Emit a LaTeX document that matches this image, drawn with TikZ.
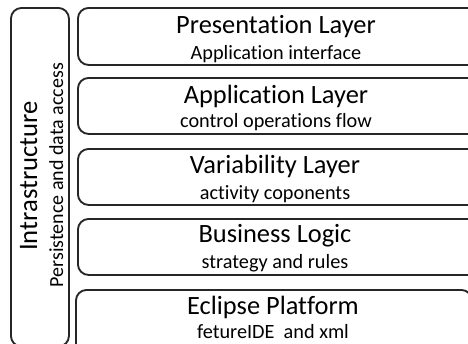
\documentclass[tikz,border=0pt]{standalone}
\usepackage{fontspec}
\setmainfont{Carlito}[Ligatures={NoCommon}]
\begin{document}
\begin{tikzpicture}[x=0.75pt,y=-0.75pt,
  boxline/.style={draw=black!85, line width=1.4pt, rounded corners=8pt, inner sep=0pt, anchor=north west},
  title/.style={font=\fontsize{19.8}{23}\selectfont, anchor=base, inner sep=0pt},
  subtitle/.style={font=\fontsize{15.2}{18}\selectfont, anchor=base, inner sep=0pt},
  sidebig/.style={font=\fontsize{20}{24}\selectfont, anchor=base, rotate=90, inner sep=0pt},
  sidesmall/.style={font=\fontsize{15}{18}\selectfont, anchor=base, rotate=90, inner sep=0pt}]
\useasboundingbox (0,0) rectangle (468,343);
\clip (0,0) rectangle (468,343);
% left infrastructure box
\node[boxline, minimum width=43.5pt, minimum height=254pt] (infra) at (10,7) {};
\node[sidebig] (infraT) at (37,176) {Intrastructure};
\node[sidesmall] (infraS) at (63,175) {Persistence and data access};
% layer boxes
\node[boxline, minimum width=302.25pt, minimum height=42.75pt] (b1) at (77,7) {};
\node[boxline, minimum width=302.25pt, minimum height=42pt] (b2) at (77,77) {};
\node[boxline, minimum width=302.25pt, minimum height=42pt] (b3) at (77,148) {};
\node[boxline, minimum width=302.25pt, minimum height=42pt] (b4) at (77,218) {};
\node[boxline, minimum width=297pt, minimum height=54pt] (b5) at (75,289) {};
% texts
\node[title] (t1) at (276,33) {Presentation Layer};
\node[subtitle] (s1) at (276,59) {Application interface};
\node[title] (t2) at (276,103) {Application Layer};
\node[subtitle] (s2) at (276,127) {control operations flow};
\node[title] (t3) at (275,173) {Variability Layer};
\node[subtitle] (s3) at (275,199) {activity coponents};
\node[title] (t4) at (275,242) {Business Logic};
\node[subtitle] (s4) at (275,268) {strategy and rules};
\node[title] (t5) at (273,314) {Eclipse Platform};
\node[subtitle] (s5) at (273,338) {fetureIDE\ \ and xml};
\end{tikzpicture}
\end{document}
